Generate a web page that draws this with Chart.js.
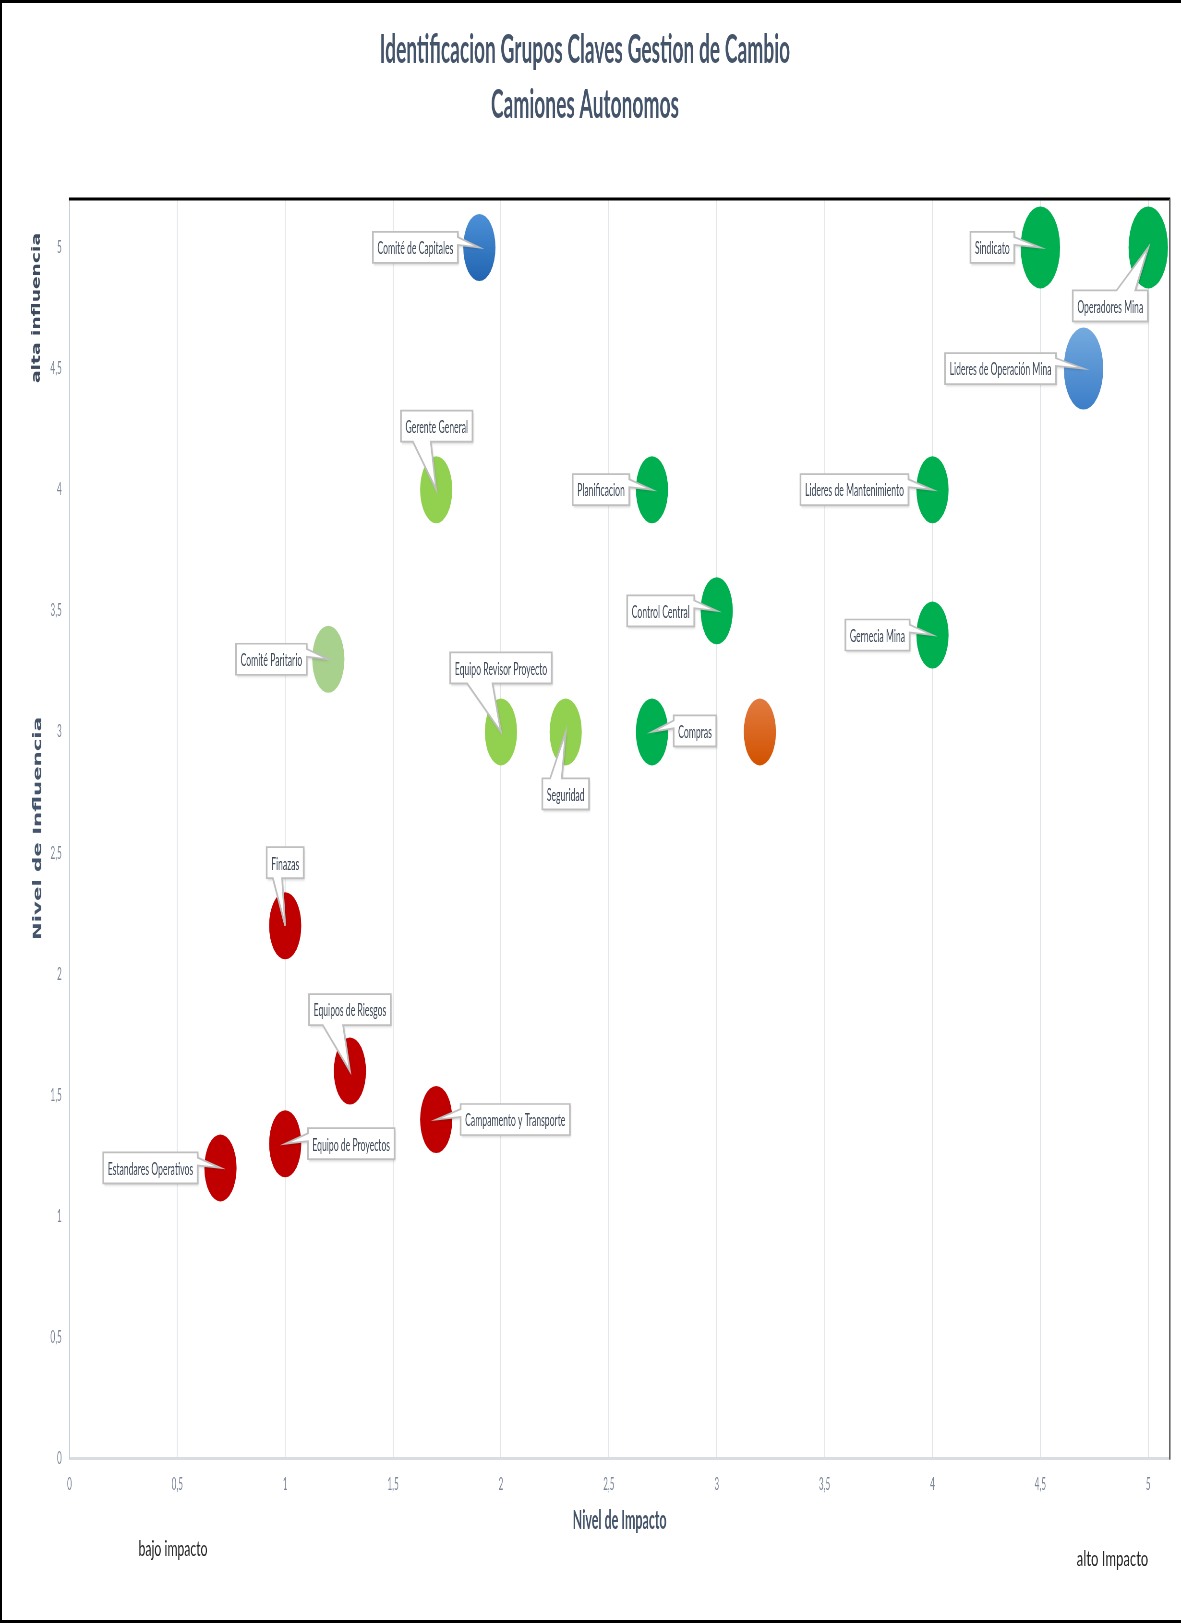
<!DOCTYPE html>
<html>
<head>
<meta charset="utf-8">
<script src="https://cdn.jsdelivr.net/npm/chart.js@4.4.1/dist/chart.umd.min.js"></script>
<style>
  html, body { margin: 0; padding: 0; background: #fff; overflow: hidden; }
  #page { position: relative; width: 1181px; height: 1623px; overflow: hidden; background: #fff; }
  #squeeze { position: absolute; left: 0; top: 0; width: 2460px; height: 1623px;
             transform: scaleX(0.48008130); transform-origin: 0 0; }
  #frame { position: absolute; left: 0; top: 0; width: 1181px; height: 1623px; box-sizing: border-box;
           border-left: 2px solid #000; border-top: 3px solid #000; border-bottom: 3px solid #000;
           pointer-events: none; }
</style>
</head>
<body>
<div id="page">
  <div id="squeeze"><canvas id="chart" width="2460" height="1623"></canvas></div>
  <div id="frame"></div>
</div>
<script>
// ---------------- DATA ----------------
const chartTitle = ['Identificacion Grupos Claves Gestion de Cambio', 'Camiones Autonomos'];
const xAxisTitle = 'Nivel de Impacto';
const yAxisTitle = 'Nivel de Influencia';
const noteTop = 'alta influencia';
const noteLeft = 'bajo impacto';
const noteRight = 'alto Impacto';

const grupos = ['Comité de Capitales', 'Sindicato', 'Operadores Mina', 'Lideres de Operación Mina',
  'Gerente General', 'Planificacion', 'Lideres de Mantenimiento', 'Control Central', 'Gernecia Mina',
  'Comité Paritario', 'Equipo Revisor Proyecto', 'Seguridad', 'Compras', '', 'Finazas',
  'Equipos de Riesgos', 'Campamento y Transporte', 'Equipo de Proyectos', 'Estandares Operativos'];
const impacto    = [1.9, 4.5, 5.0, 4.7, 1.7, 2.7, 4.0, 3.0, 4.0, 1.2, 2.0, 2.3, 2.7, 3.2, 1.0, 1.3, 1.7, 1.0, 0.7];
const influencia = [5.0, 5.0, 5.0, 4.5, 4.0, 4.0, 4.0, 3.5, 3.4, 3.3, 3.0, 3.0, 3.0, 3.0, 2.2, 1.6, 1.4, 1.3, 1.2];
const tamano     = [1, 1.5, 1.5, 1.5, 1, 1, 1, 1, 1, 1, 1, 1, 1, 1, 1, 1, 1, 1, 1];
const categoria  = ['azulOscuro', 'verde', 'verde', 'azulClaro', 'verdeClaro', 'verde', 'verde', 'verde', 'verde',
  'verdePalido', 'verdeClaro', 'verdeClaro', 'verde', 'naranja', 'rojo', 'rojo', 'rojo', 'rojo', 'rojo'];
const tickValues = [0, 0.5, 1, 1.5, 2, 2.5, 3, 3.5, 4, 4.5, 5];

// ---------------- STYLE ----------------
const S = 1181 / 2460;            // horizontal squeeze of the whole picture
const BASE_R = 33.5;              // bubble radius for size 1
const colores = {
  verde: '#00B050', verdeClaro: '#92D050', verdePalido: '#A9D18E', rojo: '#C00000',
  azulOscuro: ['#4C91D8', '#2264B0'], azulClaro: ['#74AADF', '#3C7EC8'], naranja: ['#E27B40', '#D25200']
};
// callout box centre offset from bubble centre (final picture px)
const callouts = {
  'Comité de Capitales': [-64, 0], 'Sindicato': [-48, 0], 'Operadores Mina': [-38, 58.5],
  'Lideres de Operación Mina': [-83, 0], 'Gerente General': [0.5, -63.5], 'Planificacion': [-51, 0],
  'Lideres de Mantenimiento': [-78, 0], 'Control Central': [-56, 0], 'Gernecia Mina': [-55, 0],
  'Comité Paritario': [-57, 0], 'Equipo Revisor Proyecto': [0, -64], 'Seguridad': [0, 62],
  'Compras': [43, -1], 'Finazas': [0, -63], 'Equipos de Riesgos': [0, -61.5],
  'Campamento y Transporte': [79, 0], 'Equipo de Proyectos': [66, 0], 'Estandares Operativos': [-70, 0]
};

const fmt = v => String(v).replace('.', ',');

function bubbleColor(ctx) {
  const i = ctx.dataIndex;
  const c = colores[categoria[i]];
  if (typeof c === 'string') return c;
  const chart = ctx.chart;
  if (!chart.chartArea || !chart.scales.y) return c[1];
  const cy = chart.scales.y.getPixelForValue(influencia[i]);
  const r = BASE_R * Math.sqrt(tamano[i]);
  const g = chart.ctx.createLinearGradient(0, cy - r, 0, cy + r);
  g.addColorStop(0, c[0]);
  g.addColorStop(1, c[1]);
  return g;
}

// frame lines of the plot area
const plotFrame = {
  id: 'plotFrame',
  afterDraw(chart) {
    const { ctx, chartArea: a } = chart;
    ctx.save();
    ctx.fillStyle = '#000';
    ctx.fillRect(a.left - 1, a.top - 1.5, a.right - a.left + 1 / S, 3);
    ctx.fillStyle = '#5A5A5A';
    ctx.fillRect(a.right - 0.75 / S, a.top, 1.5 / S, a.bottom - a.top + 1);
    ctx.restore();
  }
};

// callout labels
const calloutPlugin = {
  id: 'calloutPlugin',
  afterDatasetsDraw(chart) {
    const { ctx } = chart;
    const meta = chart.getDatasetMeta(0);
    ctx.save();
    ctx.font = '18px Lato';
    meta.data.forEach((el, i) => {
      const name = grupos[i];
      if (!name || !callouts[name]) return;
      const [ox, oy] = callouts[name];
      const tipX = el.x, tipY = el.y;
      const cx = tipX + ox / S, cy = tipY + oy;
      const w = ctx.measureText(name).width + 2 * 4.5 / S;
      const h = 31;
      const x0 = cx - w / 2, x1 = cx + w / 2, y0 = cy - h / 2, y1 = cy + h / 2;
      const dx = tipX - cx, dy = tipY - cy;
      let pts;
      if (Math.abs(dx) / w > Math.abs(dy) / h) {
        const sg = dy > 1 ? 1 : -1;
        const a = cy + sg * h / 12, b = cy + sg * 4 * h / 12;
        const ya = Math.min(a, b), yb = Math.max(a, b);
        if (dx > 0) pts = [[x0, y0], [x1, y0], [x1, ya], [tipX, tipY], [x1, yb], [x1, y1], [x0, y1]];
        else pts = [[x0, y0], [x1, y0], [x1, y1], [x0, y1], [x0, yb], [tipX, tipY], [x0, ya]];
      } else {
        const sg = dx > 1 ? 1 : -1;
        const a = cx + sg * w / 12, b = cx + sg * 4 * w / 12;
        const xa = Math.min(a, b), xb = Math.max(a, b);
        if (dy > 0) pts = [[x0, y0], [x1, y0], [x1, y1], [xb, y1], [tipX, tipY], [xa, y1], [x0, y1]];
        else pts = [[x0, y0], [xa, y0], [tipX, tipY], [xb, y0], [x1, y0], [x1, y1], [x0, y1]];
      }
      ctx.save();
      ctx.beginPath();
      pts.forEach((p, k) => k ? ctx.lineTo(p[0], p[1]) : ctx.moveTo(p[0], p[1]));
      ctx.closePath();
      ctx.shadowColor = 'rgba(0,0,0,0.22)';
      ctx.shadowBlur = 3;
      ctx.shadowOffsetX = 2;
      ctx.shadowOffsetY = 1.5;
      ctx.fillStyle = '#FFFFFF';
      ctx.fill();
      ctx.shadowColor = 'transparent';
      ctx.setTransform(1 / S, 0, 0, 1, 0, 0);
      ctx.lineWidth = 1.7;
      ctx.strokeStyle = '#BFBFBF';
      ctx.lineJoin = 'miter';
      ctx.stroke();
      ctx.restore();
      ctx.fillStyle = '#3F4A5A';
      ctx.textAlign = 'center';
      ctx.textBaseline = 'middle';
      ctx.fillText(name, cx, cy + 1);
    });
    ctx.restore();
  }
};

// free text notes and rotated axis title
function drawFitted(ctx, text, cxF, cyF, font, color, targetLen, crossScale, rotated) {
  ctx.save();
  ctx.font = font;
  ctx.fillStyle = color;
  ctx.textAlign = 'center';
  ctx.textBaseline = 'middle';
  const m = ctx.measureText(text).width;
  ctx.translate(cxF / S, cyF);
  if (rotated) {
    ctx.scale(crossScale / S, 1);
    ctx.rotate(-Math.PI / 2);
    ctx.scale(targetLen / m, 1);
  } else {
    ctx.scale(targetLen / (m * S), 1);
  }
  ctx.fillText(text, 0, 0);
  ctx.restore();
}
const notesPlugin = {
  id: 'notesPlugin',
  afterDraw(chart) {
    const ctx = chart.ctx;
    drawFitted(ctx, yAxisTitle, 38.3, 828.5, 'bold 18.5px "DejaVu Sans"', '#44546A', 223, 0.66, true);
    drawFitted(ctx, noteTop, 36.7, 308, 'bold 18.5px "DejaVu Sans"', '#3E4B5E', 150, 0.66, true);
    drawFitted(ctx, noteLeft, 173, 1549, '21px Lato', '#262626', 69, 1, false);
    drawFitted(ctx, noteRight, 1112.5, 1559, '21px Lato', '#262626', 71.5, 1, false);
  }
};

const tickFont = { family: 'Lato', size: 17 };
const tickColor = '#7C889A';

new Chart(document.getElementById('chart'), {
  type: 'bubble',
  data: {
    datasets: [{
      label: 'Grupos',
      data: impacto.map((x, i) => ({ x: x, y: influencia[i], r: BASE_R * Math.sqrt(tamano[i]) })),
      backgroundColor: bubbleColor,
      borderWidth: 0,
      hoverRadius: 0,
      clip: false
    }]
  },
  options: {
    responsive: false,
    animation: false,
    devicePixelRatio: 1,
    events: [],
    layout: { autoPadding: false, padding: { left: 0, right: 23.3, top: 0, bottom: 64.4 } },
    plugins: {
      legend: { display: false },
      tooltip: { enabled: false },
      title: {
        display: true,
        text: chartTitle,
        color: '#44546A',
        font: { family: 'Lato', size: 40, weight: 'bold', lineHeight: 1.375 },
        padding: { top: 22.8, bottom: 66.2 }
      }
    },
    scales: {
      x: {
        type: 'linear', position: 'bottom', min: 0, max: 5.1,
        afterBuildTicks: s => { s.ticks = tickValues.map(v => ({ value: v })); },
        ticks: { padding: 16, color: tickColor, font: tickFont, maxRotation: 0, autoSkip: false, callback: v => fmt(v) },
        grid: { color: '#E2E6EB', lineWidth: 2, drawTicks: false },
        border: { color: '#D9DCE1', width: 3 },
        title: { display: true, text: xAxisTitle, color: '#44546A',
                 font: { family: 'Lato', size: 26, weight: 'bold' }, padding: { top: 0, bottom: 22 } },
        afterFit: s => { s.height = 100; }
      },
      y: {
        type: 'linear', position: 'left', min: 0, max: 5.2,
        afterBuildTicks: s => { s.ticks = tickValues.map(v => ({ value: v })); },
        ticks: { padding: 16, color: tickColor, font: tickFont, autoSkip: false, callback: v => fmt(v) },
        grid: { display: false, drawTicks: false },
        border: { display: true, color: '#C8D1DC', width: 2 },
        afterFit: s => { s.width = 144.6; }
      }
    }
  },
  plugins: [plotFrame, calloutPlugin, notesPlugin]
});
</script>
</body>
</html>
